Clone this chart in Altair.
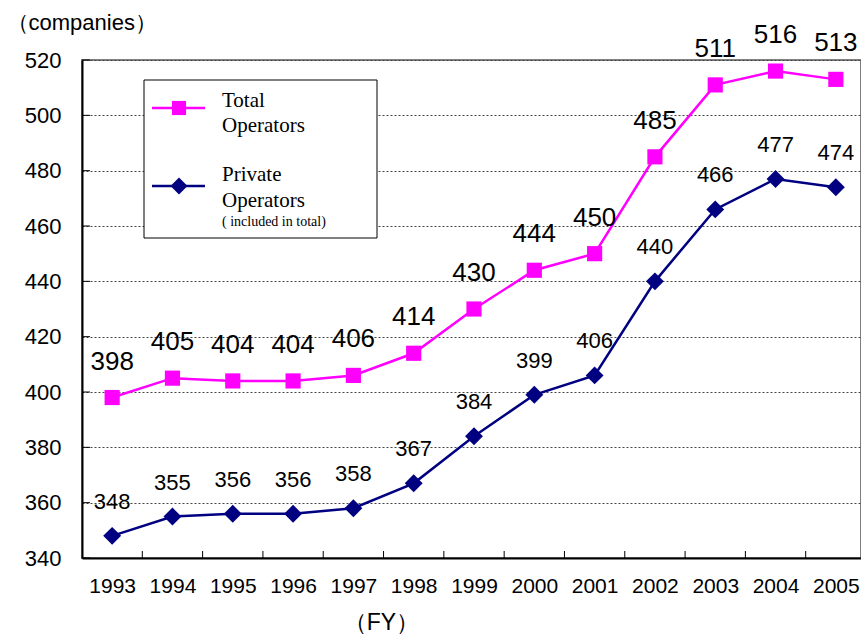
import altair as alt
import pandas as pd

years = list(range(1993, 2006))
total = [398, 405, 404, 404, 406, 414, 430, 444, 450, 485, 511, 516, 513]
private = [348, 355, 356, 356, 358, 367, 384, 399, 406, 440, 466, 477, 474]
y_ticks = [340, 360, 380, 400, 420, 440, 460, 480, 500, 520]
legend_total = ["Total", "Operators"]
legend_private = ["Private", "Operators", "( included in total)"]
y_title = "（companies）"
x_title = "（FY）"

MAGENTA = "#FF00FF"
NAVY = "#000080"
W, H = 779, 498

df = pd.DataFrame({"year": years, "total": total, "private": private})
tick_df = pd.DataFrame({"pos": [y + 0.5 for y in years[:-1]]})
ytick_df = pd.DataFrame({"v": y_ticks})
one = pd.DataFrame({"k": [0]})

xs = alt.Scale(domain=[1992.5, 2005.417], nice=False, zero=False)
ys = alt.Scale(domain=[340, 520], nice=False, zero=False)

x_axis = alt.Axis(values=years, format="d", tickSize=0, labelPadding=17,
                  labelFontSize=21, labelFlush=False, labelOverlap=False,
                  domainColor="black", domainWidth=2, grid=False,
                  title=x_title, titleX=299, titleY=71, titleAlign="center",
                  titleBaseline="alphabetic", titleFontSize=23,
                  titleFontWeight="normal", titleColor="black",
                  labelColor="black")
y_axis = alt.Axis(values=y_ticks, tickSize=0, labelPadding=21, labelFontSize=22,
                  domainColor="black", domainWidth=2, grid=True,
                  gridDash=[2, 2], gridColor="#444444", gridWidth=1,
                  title=y_title, titleAngle=0, titleX=-76, titleY=-31,
                  titleAlign="left", titleBaseline="alphabetic",
                  titleFontSize=22, titleFontWeight="normal",
                  titleColor="black", labelColor="black")


def X(field="year:Q"):
    return alt.X(field, scale=xs, axis=x_axis)


def Y(field):
    return alt.Y(field, scale=ys, axis=y_axis)


base = alt.Chart(df)

total_line = base.mark_line(color=MAGENTA, strokeWidth=2.5).encode(
    x=X(), y=Y("total:Q"))
total_pts = base.mark_point(shape="square", filled=True, size=230,
                            color=MAGENTA, opacity=1).encode(
    x=X(), y=Y("total:Q"))
total_txt = base.mark_text(fontSize=26, dy=-28, baseline="alphabetic",
                           color="black").encode(
    x=X(), y=Y("total:Q"), text="total:Q")

priv_line = base.mark_line(color=NAVY, strokeWidth=2.5).encode(
    x=X(), y=Y("private:Q"))
priv_pts = base.mark_point(shape="diamond", filled=True, size=320,
                           color=NAVY, opacity=1).encode(
    x=X(), y=Y("private:Q"))
priv_txt = base.mark_text(fontSize=22, dy=-27, baseline="alphabetic",
                          color="black").encode(
    x=X(), y=Y("private:Q"), text="private:Q")

x_ticks = alt.Chart(tick_df).mark_rule(color="black", strokeWidth=1).encode(
    x=X("pos:Q"), y=alt.value(H - 7), y2=alt.value(H))
y_tick_marks = alt.Chart(ytick_df).mark_rule(color="black", strokeWidth=1).encode(
    y=Y("v:Q"), x=alt.value(0), x2=alt.value(8))

# legend
leg = alt.Chart(one)
leg_box = leg.mark_rect(fill="white", stroke="black", strokeWidth=1).encode(
    x=alt.value(62), x2=alt.value(295), y=alt.value(20), y2=alt.value(178))
leg_l1 = leg.mark_rule(color=MAGENTA, strokeWidth=2.5).encode(
    x=alt.value(70), x2=alt.value(123), y=alt.value(48))
leg_s1 = leg.mark_point(shape="square", filled=True, size=200, color=MAGENTA,
                        opacity=1).encode(x=alt.value(97), y=alt.value(48))
leg_l2 = leg.mark_rule(color=NAVY, strokeWidth=2.5).encode(
    x=alt.value(70), x2=alt.value(123), y=alt.value(126))
leg_s2 = leg.mark_point(shape="diamond", filled=True, size=290, color=NAVY,
                        opacity=1).encode(x=alt.value(97), y=alt.value(126))


def ltxt(t, y, size=21):
    return leg.mark_text(font="Liberation Serif", fontSize=size, align="left",
                         baseline="alphabetic", color="black").encode(
        x=alt.value(140), y=alt.value(y), text=alt.value(t))


leg_texts = [
    ltxt(legend_total[0], 47), ltxt(legend_total[1], 72),
    ltxt(legend_private[0], 121), ltxt(legend_private[1], 147),
    ltxt(legend_private[2], 166, 14),
]

chart = alt.layer(
    x_ticks, y_tick_marks,
    total_line, total_pts, total_txt,
    priv_line, priv_pts, priv_txt,
    leg_box, leg_l1, leg_s1, leg_l2, leg_s2, *leg_texts,
).properties(
    width=W, height=H,
    autosize=alt.AutoSizeParams(type="none"),
    padding={"left": 82, "top": 60, "right": 0, "bottom": 78},
    background="white",
).configure(font="Liberation Sans").configure_view(
    stroke="#808080", strokeWidth=2)

chart.save("out.html", embed_options={"renderer": "svg", "actions": False})
